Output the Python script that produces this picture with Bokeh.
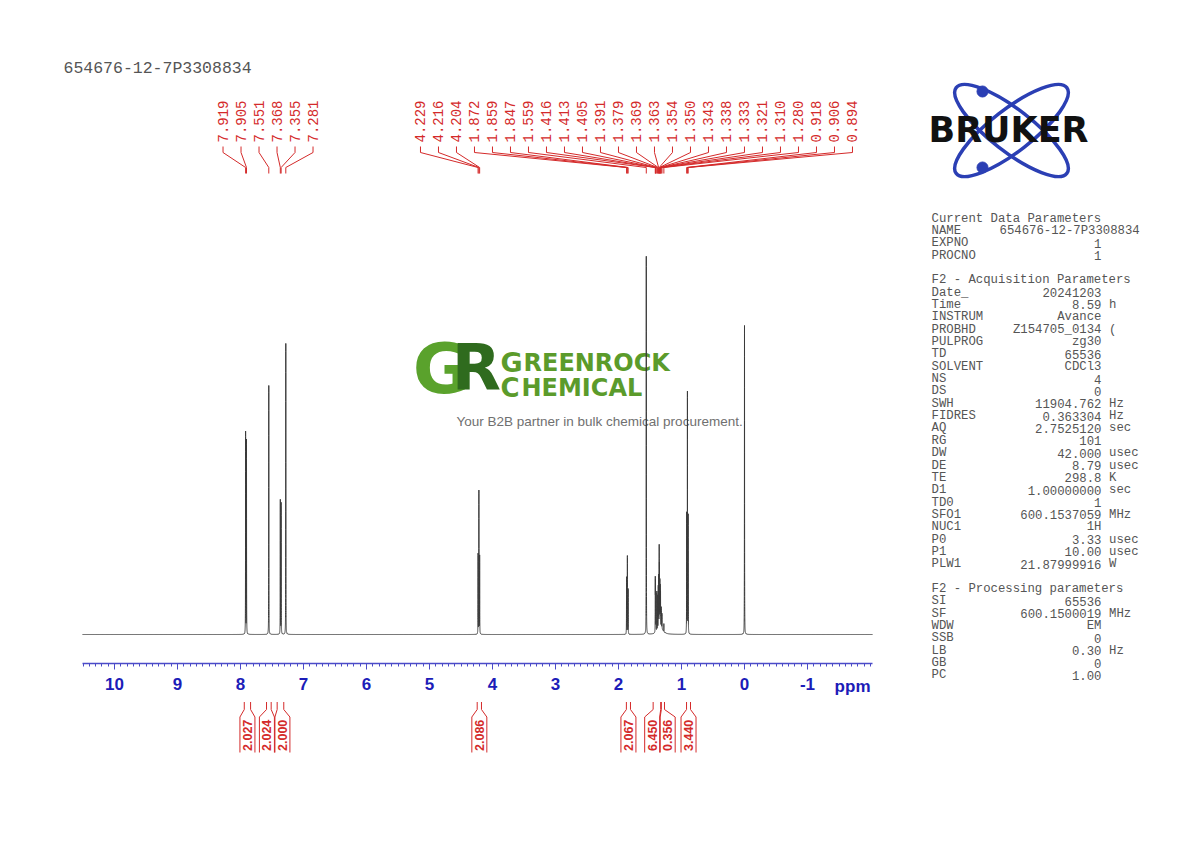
import numpy as np
from bokeh.plotting import figure
from bokeh.models import Range1d, LinearAxis, FixedTicker, ColumnDataSource
from bokeh.core.properties import value
from bokeh.embed import file_html
from bokeh.resources import INLINE

# ---------------- data ----------------
sample_id = "654676-12-7P3308834"

# labelled peaks (ppm) and their apparent heights (intensity units)
peak_ppm = [7.919, 7.905, 7.551, 7.368, 7.355, 7.281,
            4.229, 4.216, 4.204,
            1.872, 1.859, 1.847,
            1.559,
            1.416, 1.413, 1.405, 1.391, 1.379, 1.369, 1.363, 1.354,
            1.350, 1.343, 1.338, 1.333, 1.321, 1.310, 1.280,
            0.918, 0.906, 0.894]
peak_height = [202, 194, 249, 134, 131, 291,
               80, 143, 78,
               57, 78, 45,
               378,
               50, 46, 38, 40, 35, 42, 52, 78,
               58, 44, 38, 33, 20, 15, 8,
               120, 241, 118]
peak_hwhm = 0.0012

# unlabelled reference peak (TMS) and broad envelope under the CH2 multiplet
ref_ppm = [0.000]
ref_height = [309]
broad_ppm = [1.33]
broad_height = [7]
broad_hwhm = [0.04]

spectrum_ppm_left = 10.508
spectrum_ppm_right = -2.032

# integrals: limits (ppm) and values
int_left = [7.94, 7.587, 7.418, 4.243, 1.875, 1.45, 1.32, 0.92]
int_right = [7.84, 7.513, 7.313, 4.175, 1.81, 1.33, 1.27, 0.857]
int_value = [2.027, 2.024, 2.000, 2.086, 2.067, 6.450, 0.356, 3.440]

# axis ticks
major_ticks = [-1, 0, 1, 2, 3, 4, 5, 6, 7, 8, 9, 10]
minor_ticks = [k / 10 for k in range(-20, 106)]

# acquisition / processing parameters
section_titles = ["Current Data Parameters", "F2 - Acquisition Parameters",
                  "F2 - Processing parameters"]
section_rows = [0, 5, 30]
param_names = ["NAME", "EXPNO", "PROCNO",
               "Date_", "Time", "INSTRUM", "PROBHD", "PULPROG", "TD", "SOLVENT",
               "NS", "DS", "SWH", "FIDRES", "AQ", "RG", "DW", "DE", "TE", "D1",
               "TD0", "SFO1", "NUC1", "P0", "P1", "PLW1",
               "SI", "SF", "WDW", "SSB", "LB", "GB", "PC"]
param_values = ["654676-12-7P3308834", "1", "1",
                "20241203", "8.59", "Avance", "Z154705_0134", "zg30", "65536", "CDCl3",
                "4", "0", "11904.762", "0.363304", "2.7525120", "101", "42.000", "8.79",
                "298.8", "1.00000000", "1", "600.1537059", "1H", "3.33", "10.00",
                "21.87999916",
                "65536", "600.1500019", "EM", "0", "0.30", "0", "1.00"]
param_units = ["", "", "",
               "", "h", "", "(", "", "", "", "", "", "Hz", "Hz", "sec", "", "usec",
               "usec", "K", "sec", "", "MHz", "", "usec", "usec", "W",
               "", "MHz", "", "", "Hz", "", ""]
param_rows = [1, 2, 3] + list(range(6, 29)) + list(range(31, 38))

brand_name = "BRUKER"
watermark_top = "GREENROCK"
watermark_bottom = "CHEMICAL"
watermark_tagline = "Your B2B partner in bulk chemical procurement."

# ---------------- layout constants (page pixels) ----------------
PAGE_L, PAGE_R, PAGE_T, PAGE_B = 0, 1174, 0, 826
PPM0_PX = 744.0          # where 0 ppm sits
PX_PER_PPM = 63.0
BASE_PX = 634.0          # spectrum baseline
AXIS_PX = 663.0

RED = "#d42a2a"
BLUE = "#1c1cb8"
GRAY = "#555555"
MONO = value("Liberation Mono")
SANS = value("Liberation Sans")


def ppm2px(v):
    return PPM0_PX - PX_PER_PPM * np.asarray(v, dtype=float)


def spread(centers, gap):
    centers = np.asarray(centers, dtype=float)
    order = np.argsort(centers)
    clusters = [[c] for c in centers[order]]
    changed = True
    while changed:
        changed = False
        span = []
        for cl in clusters:
            m, n = np.mean(cl), len(cl)
            span.append((m - (n - 1) / 2 * gap, m + (n - 1) / 2 * gap))
        for i in range(len(clusters) - 1):
            if span[i + 1][0] - span[i][1] < gap - 1e-9:
                clusters[i] = clusters[i] + clusters[i + 1]
                del clusters[i + 1]
                changed = True
                break
    out = []
    for cl in clusters:
        m, n = np.mean(cl), len(cl)
        out += [m + (k - (n - 1) / 2) * gap for k in range(n)]
    res = np.empty(len(centers))
    res[order] = out
    return res


p = figure(width=PAGE_R - PAGE_L, height=PAGE_B - PAGE_T,
           x_range=Range1d(PAGE_L, PAGE_R), y_range=Range1d(PAGE_B, PAGE_T),
           output_backend="svg", toolbar_location=None,
           x_axis_type=None, y_axis_type=None, min_border=0,
           outline_line_color=None, background_fill_color="white",
           border_fill_color="white")
p.extra_x_ranges = {"ppm": Range1d((PPM0_PX - PAGE_L) / PX_PER_PPM,
                                   (PPM0_PX - PAGE_R) / PX_PER_PPM)}
p.extra_y_ranges = {"int": Range1d(BASE_PX - PAGE_B, BASE_PX - PAGE_T)}

# ---------------- watermark (behind spectrum) ----------------
p.text(x=[441], y=[368], text=["G"], text_font=value("DejaVu Sans"), text_font_style="bold",
       text_font_size="70px", text_color="#5aa22c", text_align="center", text_baseline="middle")
p.text(x=[476], y=[367], text=["R"], text_font=value("DejaVu Sans"), text_font_style="bold",
       text_font_size="64px", text_color="#2f6b1e", text_align="center", text_baseline="middle")
p.text(x=[500], y=[362], text=[watermark_top[0]], text_font=value("DejaVu Sans"),
       text_font_style="bold", text_font_size="27px", text_color="#5b9b2b",
       text_align="left", text_baseline="alphabetic")
p.text(x=[523], y=[362], text=[watermark_top[1:]], text_font=value("DejaVu Sans"),
       text_font_style="bold", text_font_size="24px", text_color="#5b9b2b",
       text_align="left", text_baseline="alphabetic")
p.text(x=[500], y=[387], text=[watermark_bottom[0]], text_font=value("DejaVu Sans"),
       text_font_style="bold", text_font_size="26px", text_color="#5b9b2b",
       text_align="left", text_baseline="alphabetic")
p.text(x=[521], y=[387], text=[watermark_bottom[1:]], text_font=value("DejaVu Sans"),
       text_font_style="bold", text_font_size="24px", text_color="#5b9b2b",
       text_align="left", text_baseline="alphabetic")
p.text(x=[456], y=[421], text=[watermark_tagline], text_font=SANS, text_font_size="13.5px",
       text_color="#707070", text_align="left", text_baseline="middle")

# ---------------- spectrum ----------------
all_ppm = np.array(peak_ppm + ref_ppm, dtype=float)
all_h = np.array(peak_height + ref_height, dtype=float)
grid = [np.linspace(spectrum_ppm_left, spectrum_ppm_right, 3000), all_ppm]
for c in all_ppm:
    grid.append(np.linspace(c - 0.03, c + 0.03, 301))
for c, w in zip(broad_ppm, broad_hwhm):
    grid.append(np.linspace(c - 4 * w, c + 4 * w, 200))
x = np.unique(np.concatenate(grid))
x = x[(x <= spectrum_ppm_left) & (x >= spectrum_ppm_right)][::-1]
y = np.zeros_like(x)
for c, h in zip(all_ppm, all_h):
    y += h / (1 + ((x - c) / peak_hwhm) ** 2)
for c, h, w in zip(broad_ppm, broad_height, broad_hwhm):
    y += h / (1 + ((x - c) / w) ** 2)
p.line(x=x, y=y, x_range_name="ppm", y_range_name="int", line_color="#3a3a3a", line_width=1)

# ---------------- ppm axis ----------------
ax = LinearAxis(x_range_name="ppm", fixed_location=AXIS_PX,
                bounds=(spectrum_ppm_right, spectrum_ppm_left),
                ticker=FixedTicker(ticks=major_ticks, minor_ticks=minor_ticks),
                major_label_overrides={t: str(t) for t in major_ticks},
                axis_line_color="#4b4bc8", axis_line_width=1.3,
                major_tick_line_color="#4b4bc8", minor_tick_line_color="#4b4bc8",
                major_tick_in=0, major_tick_out=6, minor_tick_in=0, minor_tick_out=3,
                major_label_text_color=BLUE, major_label_text_font="Liberation Sans",
                major_label_text_font_style="bold", major_label_text_font_size="17px",
                major_label_standoff=8)
p.add_layout(ax, "below")
p.text(x=[-2.0], y=[686], text=["ppm"], x_range_name="ppm", text_font=SANS,
       text_font_style="bold", text_font_size="17px", text_color=BLUE,
       text_align="right", text_baseline="middle")

# ---------------- peak labels ----------------
pk_px = ppm2px(peak_ppm)
lab_px = spread(pk_px, 18.0)
p.multi_line(xs=[[lx, lx, px, px] for lx, px in zip(lab_px, pk_px)],
             ys=[[146, 152, 167, 173]] * len(pk_px), line_color=RED, line_width=1)
p.text(x=lab_px, y=[142] * len(pk_px), text=[f"{v:.3f}" for v in peak_ppm],
       angle=np.pi / 2, text_font=MONO, text_font_size="14px", text_color=RED,
       text_align="left", text_baseline="middle")

# ---------------- integrals ----------------
il = ppm2px(int_left)
ir = ppm2px(int_right)
box_c = spread((il + ir) / 2, 15.5)
xs, ys = [], []
for a, b, c in zip(il, ir, box_c):
    xs += [[c - 7.5, c - 7.5, a, a], [c + 7.5, c + 7.5, b, b]]
    ys += [[752, 716.5, 709, 701.5], [752, 716.5, 709, 701.5]]
p.multi_line(xs=xs, ys=ys, line_color=RED, line_width=1)
p.text(x=box_c, y=[750.5] * len(box_c), text=[f"{v:.3f}" for v in int_value],
       angle=np.pi / 2, text_font=SANS, text_font_style="bold", text_font_size="12.5px",
       text_color=RED, text_align="left", text_baseline="middle")

# ---------------- sample id ----------------
p.text(x=[63], y=[68], text=[sample_id], text_font=MONO, text_font_size="16.5px",
       text_color=GRAY, text_align="left", text_baseline="middle")

# ---------------- Bruker logo ----------------
p.ellipse(x=[1011, 1011], y=[130, 130], width=[140, 140], height=[42, 42],
          angle=[0.66, -0.66], width_units="screen", height_units="screen",
          fill_color=None, line_color="#2b3fb4", line_width=3.5)
p.scatter(x=[982, 982], y=[91, 167], size=11, color="#2b3fb4")
p.text(x=[1008], y=[129], text=[brand_name], text_font=value("DejaVu Sans"),
       text_font_style="bold", text_font_size="35px", text_color="#111111",
       text_align="center", text_baseline="middle")

# ---------------- parameter panel ----------------
ROW0, PITCH = 218.0, 12.35
p.text(x=[931] * len(section_titles), y=[ROW0 + r * PITCH for r in section_rows],
       text=section_titles, text_font=MONO, text_font_size="12.3px", text_color=GRAY,
       text_align="left", text_baseline="middle")
ry = [ROW0 + r * PITCH for r in param_rows]
p.text(x=[931] * len(param_names), y=ry, text=param_names, text_font=MONO,
       text_font_size="12.3px", text_color=GRAY, text_align="left", text_baseline="middle")
p.text(x=[999], y=ry[:1], text=param_values[:1], text_font=MONO,
       text_font_size="12.3px", text_color=GRAY, text_align="left", text_baseline="middle")
p.text(x=[1101] * (len(param_values) - 1), y=ry[1:], text=param_values[1:], text_font=MONO,
       text_font_size="12.3px", text_color=GRAY, text_align="right", text_baseline="middle")
p.text(x=[1108.5] * len(param_units), y=ry, text=param_units, text_font=MONO,
       text_font_size="12.3px", text_color=GRAY, text_align="left", text_baseline="middle")

open("out.html", "w").write(file_html(p, INLINE))
